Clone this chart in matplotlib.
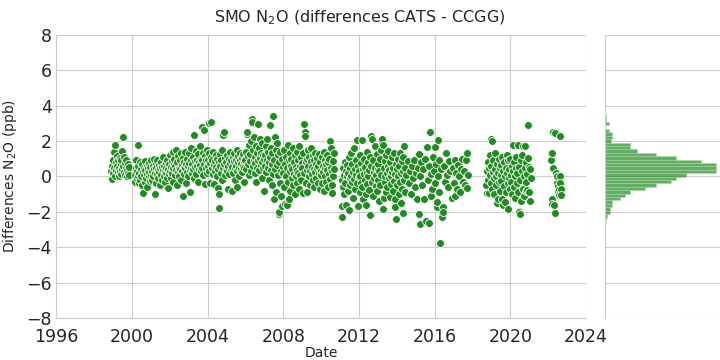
import numpy as np
import matplotlib
matplotlib.use("Agg")
import matplotlib.pyplot as plt
import seaborn as sns

# CATS - CCGG differences at SMO, (decimal year, ppb)
pts_1999 = [(1998.92,0.3),(1998.95,0.6),(1998.97,-0.15),(1999.0,0.9),(1999.02,0.2),(1999.05,1.4),(1999.07,0.5),
            (1999.1,1.8),(1999.12,0.0),(1999.15,0.8),(1999.17,0.35),(1999.2,1.15),(1999.22,0.6),(1999.25,0.25),
            (1999.28,0.9),(1999.3,0.05),(1999.33,0.5),(1999.35,1.05),(1999.38,0.3),(1999.4,0.7),(1999.43,0.15),
            (1999.45,0.95),(1999.48,0.4),(1999.5,1.45),(1999.52,0.6),(1999.55,2.2),(1999.57,0.25),(1999.6,1.1),
            (1999.62,0.75),(1999.65,0.1),(1999.68,0.5),(1999.7,0.9),(1999.72,0.0),(1999.75,0.35),(1999.78,0.7),
            (1999.8,0.2),(1999.83,0.55),(1999.86,0.1)]

pts_2000 = [(2000.15,0.1),(2000.18,-0.3),(2000.2,0.5),(2000.22,0.9),(2000.25,-0.1),(2000.28,0.3),(2000.3,1.8),
            (2000.32,0.0),(2000.35,0.6),(2000.38,-0.4),(2000.4,0.2),(2000.42,0.8),(2000.45,-0.2),(2000.48,0.4),
            (2000.5,0.05),(2000.52,0.7),(2000.55,-0.5),(2000.57,0.25),(2000.6,-0.95),(2000.62,0.5),(2000.65,0.1),
            (2000.68,-0.3),(2000.7,0.85),(2000.72,0.35),(2000.75,-0.1),(2000.78,0.6),(2000.8,0.15),(2000.82,-0.6),
            (2000.85,0.45),(2000.88,0.0),(2000.9,0.75),(2000.92,0.25),(2000.95,-0.25),(2000.98,0.55),
            (2001.0,0.1),(2001.03,0.9),(2001.05,0.3),(2001.08,-0.2),(2001.1,0.6),(2001.13,0.0),(2001.15,1.0),
            (2001.18,0.4),(2001.2,-1.0),(2001.23,0.2),(2001.25,0.7),(2001.28,-0.35),(2001.3,0.5),(2001.33,0.15),
            (2001.35,0.95),(2001.38,0.35),(2001.4,-0.1),(2001.43,0.65),(2001.45,0.25),(2001.48,-0.5),(2001.5,0.45),
            (2001.53,0.8),(2001.55,0.1),(2001.58,0.55),(2001.6,-0.2),(2001.63,0.35),(2001.65,1.1),(2001.68,0.0),
            (2001.7,0.6),(2001.73,0.3),(2001.75,-0.3),(2001.78,0.75),(2001.8,0.2),(2001.83,0.5),(2001.85,-0.1),
            (2001.88,0.9),(2001.9,-0.65),(2001.93,0.4),(2001.95,0.15),(2001.98,0.7),
            (2002.0,0.3),(2002.03,1.2),(2002.05,-0.1),(2002.08,0.55),(2002.1,0.85),(2002.13,0.2),(2002.15,1.4),
            (2002.18,0.45),(2002.2,-0.3),(2002.23,0.7),(2002.25,1.0),(2002.28,0.1),(2002.3,0.6),(2002.33,1.5),
            (2002.35,0.35),(2002.38,-0.5),(2002.4,0.8),(2002.43,0.25),(2002.45,1.15),(2002.48,0.5),(2002.5,0.0),
            (2002.53,0.9),(2002.55,0.4),(2002.58,1.3),(2002.6,-0.2),(2002.63,0.65),(2002.65,0.3),(2002.68,-1.1),
            (2002.7,1.05),(2002.73,0.55),(2002.75,0.15),(2002.78,0.8),(2002.8,1.4),(2002.83,0.45),(2002.85,-0.4),
            (2002.88,0.7),(2002.9,0.25),(2002.93,1.0),(2002.95,0.6),(2002.98,0.05),
            (2003.0,0.75),(2003.03,1.3),(2003.05,0.35),(2003.08,-0.9),(2003.1,0.9),(2003.13,0.5),(2003.15,1.6),
            (2003.18,0.2),(2003.2,0.7),(2003.23,1.1),(2003.25,0.4),(2003.28,-0.1),(2003.3,2.35),(2003.33,0.85),
            (2003.35,0.55),(2003.38,1.45),(2003.4,0.15),(2003.43,0.95),(2003.45,0.6),(2003.48,1.25),(2003.5,-0.3),
            (2003.53,0.8),(2003.55,0.4),(2003.58,1.7),(2003.6,0.65),(2003.63,1.0),(2003.65,0.3),(2003.68,2.8),
            (2003.7,0.9),(2003.73,0.5),(2003.75,1.35),(2003.78,0.1),(2003.8,2.6),(2003.83,0.7),(2003.85,1.15),
            (2003.88,-0.45),(2003.9,0.45),(2003.93,0.95),(2003.95,0.2),(2003.98,1.5),
            (2004.0,0.6),(2004.03,0.9),(2004.05,0.3),(2004.08,1.3),(2004.1,3.0),(2004.13,0.75),(2004.15,-0.4),
            (2004.18,1.1),(2004.2,3.05),(2004.23,0.5),(2004.25,0.95),(2004.28,0.15),(2004.3,1.4),(2004.33,0.65),
            (2004.35,-0.45),(2004.38,0.85),(2004.4,0.3),(2004.43,1.2),(2004.45,0.55),(2004.48,0.0),(2004.5,1.0),
            (2004.53,0.4),(2004.55,-0.65),(2004.58,0.8),(2004.6,-1.8),(2004.62,-1.0),(2004.65,1.25),(2004.68,0.6),
            (2004.7,0.2),(2004.72,0.9),(2004.75,-0.2),(2004.78,1.5),(2004.8,0.45),(2004.83,2.35),(2004.85,2.5),
            (2004.88,0.7),(2004.9,0.1),(2004.93,1.05),(2004.96,0.35)]

pts_2005 = [(2005.0,0.8),(2005.03,0.3),(2005.05,1.2),(2005.08,-0.7),(2005.1,0.6),(2005.13,1.0),(2005.15,0.15),
            (2005.18,0.75),(2005.2,1.4),(2005.23,0.4),(2005.25,0.9),(2005.28,-0.8),(2005.3,0.55),(2005.33,1.1),
            (2005.35,0.2),(2005.38,0.85),(2005.4,1.3),(2005.43,0.45),(2005.45,-0.2),(2005.48,0.95),(2005.5,0.6),
            (2005.53,1.5),(2005.55,0.3),(2005.58,-0.6),(2005.6,0.8),(2005.63,1.15),(2005.65,0.5),(2005.68,0.0),
            (2005.7,0.9),(2005.73,1.35),(2005.75,0.4),(2005.78,0.7),(2005.8,1.05),(2005.83,0.25),(2005.85,0.6),
            (2005.88,1.25),(2005.9,-0.3),(2005.93,0.85),(2005.95,0.5),(2005.98,1.0),
            (2006.0,0.9),(2006.03,1.4),(2006.05,0.4),(2006.08,2.4),(2006.1,2.5),(2006.13,0.7),(2006.15,1.15),
            (2006.18,0.1),(2006.2,1.8),(2006.23,0.85),(2006.25,1.25),(2006.28,0.3),(2006.3,2.0),(2006.33,3.25),
            (2006.35,3.1),(2006.38,0.6),(2006.4,1.5),(2006.43,0.95),(2006.45,2.2),(2006.48,0.2),(2006.5,1.1),
            (2006.53,0.75),(2006.55,1.7),(2006.58,-0.3),(2006.6,1.3),(2006.63,0.5),(2006.65,0.9),(2006.68,2.95),
            (2006.7,1.6),(2006.73,0.35),(2006.75,1.05),(2006.78,2.1),(2006.8,0.65),(2006.83,1.35),(2006.85,-0.1),
            (2006.88,0.8),(2006.9,1.9),(2006.93,1.2),(2006.95,0.45),(2006.98,1.0),
            (2007.0,-0.85),(2007.03,1.2),(2007.05,0.6),(2007.08,1.7),(2007.1,0.25),(2007.13,0.95),(2007.15,2.1),
            (2007.18,0.5),(2007.2,1.4),(2007.23,-0.2),(2007.25,0.8),(2007.28,2.9),(2007.3,1.1),(2007.33,0.35),
            (2007.35,1.6),(2007.38,0.7),(2007.4,-0.5),(2007.43,1.3),(2007.45,0.15),(2007.48,3.4),(2007.5,-1.3),
            (2007.53,0.9),(2007.55,2.2),(2007.58,0.4),(2007.6,1.5),(2007.63,-0.9),(2007.65,0.65),(2007.68,1.9),
            (2007.7,0.1),(2007.73,1.2),(2007.75,-2.1),(2007.78,-2.0),(2007.8,0.8),(2007.83,-0.4),(2007.85,1.4),
            (2007.88,0.3),(2007.9,-1.1),(2007.93,-1.65),(2007.95,1.0),(2007.98,0.55),
            (2008.0,0.2),(2008.03,1.5),(2008.05,-0.6),(2008.08,0.7),(2008.1,-1.55),(2008.13,1.1),(2008.15,0.0),
            (2008.18,-1.6),(2008.2,0.45),(2008.23,1.8),(2008.25,-0.3),(2008.28,0.9),(2008.3,-1.25),(2008.33,0.3),
            (2008.35,1.3),(2008.38,-0.8),(2008.4,0.6),(2008.43,1.0),(2008.45,-0.1),(2008.48,0.4),(2008.5,1.6),
            (2008.53,-0.5),(2008.55,0.8),(2008.58,0.15),(2008.6,1.2),(2008.63,-1.0),(2008.65,0.55),(2008.68,0.0),
            (2008.7,1.4),(2008.73,0.35),(2008.75,-0.35),(2008.78,0.95),(2008.8,0.2),(2008.83,1.7),(2008.85,-0.7),
            (2008.88,0.6),(2008.9,0.1),(2008.93,1.1),(2008.95,-0.2),(2008.98,0.75),
            (2009.0,0.5),(2009.03,-0.95),(2009.05,1.3),(2009.08,0.2),(2009.1,2.95),(2009.13,2.5),(2009.15,2.3),
            (2009.18,0.8),(2009.2,-0.4),(2009.23,1.0),(2009.25,0.35),(2009.28,-0.9),(2009.3,1.5),(2009.33,0.6),
            (2009.35,0.0),(2009.38,1.1),(2009.4,0.3),(2009.43,-0.5),(2009.45,0.85),(2009.48,1.6),(2009.5,0.15),
            (2009.53,0.55),(2009.55,-0.2),(2009.58,1.2),(2009.6,0.4),(2009.63,0.9),(2009.65,-0.6),(2009.68,0.25),
            (2009.7,1.35),(2009.73,0.7),(2009.75,-0.1),(2009.78,0.45),(2009.8,1.05),(2009.83,-0.35),(2009.85,0.6),
            (2009.88,0.2),(2009.9,1.25),(2009.93,-0.7),(2009.95,0.8),(2009.98,0.3),
            (2010.0,0.1),(2010.03,1.1),(2010.05,-0.4),(2010.08,0.6),(2010.1,0.25),(2010.13,1.4),(2010.15,-0.8),
            (2010.18,0.45),(2010.2,0.9),(2010.23,0.0),(2010.25,0.7),(2010.28,-0.3),(2010.3,1.2),(2010.33,0.35),
            (2010.35,-0.6),(2010.38,0.8),(2010.4,0.15),(2010.43,1.0),(2010.45,-0.15),(2010.48,2.0),(2010.5,1.6),
            (2010.53,0.5),(2010.55,-0.5),(2010.58,0.3),(2010.6,-0.95),(2010.63,0.85),(2010.65,0.05),(2010.68,1.3),
            (2010.7,0.4)]

pts_2011 = [(2011.08,-2.3),(2011.1,-1.7),(2011.12,-0.2),(2011.15,0.5),(2011.18,-0.6),(2011.2,0.1),(2011.23,-1.0),
            (2011.25,0.8),(2011.28,-0.35),(2011.3,0.3),(2011.33,-1.6),(2011.35,0.0),(2011.38,0.65),(2011.4,-0.8),
            (2011.43,0.2),(2011.45,1.1),(2011.48,-1.9),(2011.5,-0.1),(2011.53,0.45),(2011.55,-0.5),(2011.58,1.3),
            (2011.6,0.05),(2011.63,-0.3),(2011.65,0.7),(2011.68,-1.2),(2011.7,0.25),(2011.73,1.6),(2011.75,-0.15),
            (2011.78,0.4),(2011.8,-0.7),(2011.83,0.9),(2011.85,0.1),(2011.88,-0.4),(2011.9,2.05),(2011.93,-1.7),
            (2011.95,0.6),(2011.98,-0.05),
            (2012.0,0.3),(2012.03,-0.9),(2012.05,1.2),(2012.08,0.0),(2012.1,-0.35),(2012.13,0.75),(2012.15,2.05),
            (2012.18,-0.6),(2012.2,0.4),(2012.23,-1.3),(2012.25,0.15),(2012.28,1.0),(2012.3,-0.2),(2012.33,0.55),
            (2012.35,-1.0),(2012.38,-1.6),(2012.4,0.2),(2012.43,1.4),(2012.45,-0.45),(2012.48,0.8),(2012.5,0.0),
            (2012.53,-0.75),(2012.55,0.35),(2012.58,1.1),(2012.6,-2.2),(2012.63,0.6),(2012.65,2.3),(2012.68,2.1),
            (2012.7,-0.3),(2012.73,0.9),(2012.75,-1.1),(2012.78,0.25),(2012.8,-0.1),(2012.83,1.7),(2012.85,0.5),
            (2012.88,-0.55),(2012.9,0.1),(2012.93,1.25),(2012.95,-0.85),(2012.98,0.4),
            (2013.0,-0.2),(2013.03,0.7),(2013.05,-1.4),(2013.08,0.3),(2013.1,1.0),(2013.13,-0.5),(2013.15,0.1),
            (2013.18,1.5),(2013.2,1.9),(2013.23,2.1),(2013.25,1.8),(2013.28,-1.85),(2013.3,-1.2),(2013.33,0.45),
            (2013.35,-0.3),(2013.38,0.85),(2013.4,0.0),(2013.43,-0.9),(2013.45,1.2),(2013.48,0.2),(2013.5,-0.6),
            (2013.53,0.6),(2013.55,1.45),(2013.58,-0.1),(2013.6,0.35),(2013.63,-1.15),(2013.65,0.8),(2013.68,0.05),
            (2013.7,-0.45),(2013.73,1.1),(2013.75,0.25),(2013.78,-0.8),(2013.8,0.5),(2013.83,1.35),(2013.85,-0.25),
            (2013.88,0.15),(2013.9,-1.3),(2013.93,-1.75),(2013.95,0.7),(2013.98,-2.4),
            (2014.0,0.4),(2014.03,-0.5),(2014.05,1.0),(2014.08,0.0),(2014.1,-1.0),(2014.13,0.6),(2014.15,1.3),
            (2014.18,-0.3),(2014.2,0.2),(2014.23,-1.5),(2014.25,0.85),(2014.28,-0.7),(2014.3,-2.05),(2014.33,0.3),
            (2014.35,1.1),(2014.38,-0.2),(2014.4,1.7),(2014.43,0.5),(2014.45,-0.9),(2014.48,0.1)]

pts_2015 = [(2014.6,0.85),(2014.65,-0.4),(2014.7,0.3),(2014.75,-1.0),(2014.8,0.6),(2014.85,-0.1),(2014.9,0.9),
            (2014.95,-0.6),(2015.0,0.2),(2015.05,-1.3),(2015.1,0.5),(2015.15,1.27),(2015.18,-2.1),(2015.2,-2.7),
            (2015.25,0.0),(2015.3,0.8),(2015.35,-0.5),(2015.4,0.4),(2015.45,-1.3),(2015.5,1.0),(2015.55,-2.5),
            (2015.6,1.68),(2015.65,-0.2),(2015.7,-2.65),(2015.72,0.6),(2015.75,2.5),(2015.78,-1.1),(2015.8,0.15),
            (2015.85,-0.7),(2015.9,1.1),(2015.95,0.3),(2016.0,1.68),(2016.03,-0.4),(2016.05,0.7),(2016.1,-1.75),
            (2016.12,-1.45),(2016.15,0.0),(2016.2,2.05),(2016.23,0.9),(2016.25,-0.9),(2016.3,-3.77),(2016.33,0.4),
            (2016.38,-2.1),(2016.4,-2.3),(2016.42,-1.75),(2016.45,-2.0),(2016.5,0.6),(2016.55,-0.3),(2016.6,1.3),
            (2016.65,0.1),(2016.7,-0.6),(2016.75,0.85),(2016.8,0.3),(2016.9,-1.2),(2016.95,0.5),(2017.0,-0.4),
            (2017.05,0.9),(2017.1,-1.1),(2017.15,0.2),(2017.2,-0.7),(2017.25,0.65),(2017.3,0.0),(2017.35,-0.9),
            (2017.4,0.4),(2017.45,0.97),(2017.5,-0.3),(2017.55,0.3),(2017.6,-0.5),(2017.65,0.95),(2017.7,1.35),
            (2017.72,-0.67),(2017.75,0.1)]

pts_2019 = [(2018.72,-0.5),(2018.75,-0.95),(2018.78,0.3),(2018.8,0.8),(2018.83,-0.2),(2018.85,0.5),(2018.88,-0.95),
            (2018.9,0.1),(2018.93,1.2),(2018.95,-0.4),(2018.98,0.6),(2019.0,2.1),(2019.03,2.0),(2019.05,-0.7),
            (2019.08,0.25),(2019.1,0.9),(2019.13,-0.1),(2019.15,-1.0),(2019.18,0.4),(2019.2,1.3),(2019.23,-0.5),
            (2019.25,0.0),(2019.28,0.7),(2019.3,-1.5),(2019.33,-1.29),(2019.35,0.2),(2019.38,-0.3),(2019.4,1.0),
            (2019.43,0.45),(2019.45,-0.8),(2019.48,0.1),(2019.5,0.65),(2019.53,-0.25),(2019.55,1.1),(2019.58,-1.3),
            (2019.6,-1.6),(2019.63,0.3),(2019.65,-0.55),(2019.68,0.8),(2019.7,-1.45),(2019.73,0.0),(2019.75,0.5),
            (2019.78,-0.9),(2019.8,1.2),(2019.83,0.2),(2019.85,-0.4),(2019.88,-1.85),(2019.9,0.9),(2019.93,-0.1),
            (2019.95,0.4),(2019.98,-0.7),(2020.0,1.0),(2020.03,0.1),(2020.05,-0.3),(2020.08,0.6),(2020.1,-1.0),
            (2020.13,1.78),(2020.15,0.3),(2020.18,-0.6),(2020.2,0.8),(2020.23,0.0),(2020.25,-1.2),(2020.28,0.45),
            (2020.3,1.1),(2020.33,-0.4),(2020.35,0.2),(2020.38,-0.9),(2020.4,1.75),(2020.43,-1.95),(2020.45,-2.0),
            (2020.48,0.55),(2020.5,-0.2),(2020.53,-2.14),(2020.55,0.9),(2020.58,-1.4),(2020.6,1.2),(2020.63,0.3),
            (2020.65,-0.7),(2020.68,1.7),(2020.7,0.0),(2020.73,-1.1),(2020.75,1.72),(2020.78,0.5),(2020.8,-0.3),
            (2020.83,0.8),(2020.85,-0.8),(2020.88,0.15),(2020.9,-0.76),(2020.93,1.03),(2020.95,2.9),(2020.97,0.55),
            (2021.0,-0.86),(2021.03,-1.37),(2021.05,0.4),(2021.08,-0.1)]

pts_2022 = [(2022.13,1.3),(2022.15,0.9),(2022.18,1.3),(2022.2,-1.3),(2022.22,-1.57),(2022.25,2.5),(2022.27,0.5),
            (2022.3,-1.6),(2022.35,2.45),(2022.38,-2.08),(2022.42,0.18),(2022.45,-0.4),(2022.48,0.0),(2022.5,-0.57),
            (2022.52,-0.8),(2022.55,-0.7),(2022.58,-1.05),(2022.6,2.3),(2022.62,0.0),(2022.64,-0.4),(2022.66,-0.7),
            (2022.68,-1.05)]

# marginal histogram, counts per bin from top (3.46 ppb) down to -2.52 ppb
hist_counts = [1, 1, 4, 0, 4, 7, 7, 6, 25, 25, 32, 51, 71, 96, 110, 110, 110,
               81, 71, 66, 51, 40, 25, 20, 15, 7, 7, 5, 5, 2, 1]
hist_top, hist_bottom = 3.46, -2.52

year_ticks = [1996, 2000, 2004, 2008, 2012, 2016, 2020, 2024]

all_pts = pts_1999 + pts_2000 + pts_2005 + pts_2011 + pts_2015 + pts_2019 + pts_2022
dates = np.array([p[0] for p in all_pts])
diffs = np.array([p[1] for p in all_pts])

sns.set_style("whitegrid")
plt.rcParams['font.family'] = ['DejaVu Sans']

fig = plt.figure(figsize=(7.2, 3.6), dpi=100)
ax = fig.add_axes([0.078, 0.117, 0.736, 0.786])
axh = fig.add_axes([0.840, 0.117, 0.165, 0.786], sharey=ax)

ax.scatter(dates, diffs, s=32, color='forestgreen', edgecolor='white', linewidth=0.6, zorder=3)
ax.set_xlim(1996, 2024)
ax.set_ylim(-8, 8)
ax.set_xticks(year_ticks)
ax.set_yticks(range(-8, 9, 2))
ax.tick_params(labelsize=12.5, colors='#262626', length=0)
ax.tick_params(axis='x', pad=7)
ax.tick_params(axis='y', pad=3)
ax.set_xlabel('Date', fontsize=10, color='#262626', labelpad=0)
ax.set_ylabel('Differences N$_2$O (ppb)', fontsize=10, color='#262626', labelpad=5)
for s in ['top', 'right']:
    ax.spines[s].set_visible(False)
for s in ['left', 'bottom']:
    ax.spines[s].set_color('#cccccc')

# horizontal histogram on the right
n = len(hist_counts)
edges = np.linspace(hist_top, hist_bottom, n + 1)
heights = edges[:-1] - edges[1:]
axh.barh(edges[1:], hist_counts, height=heights, align='edge',
         color='forestgreen', alpha=0.7, edgecolor='#a8d5a8', linewidth=0.6)
axh.set_xlim(0, 118)
axh.set_xticks([])
axh.tick_params(labelleft=False, length=0)
axh.grid(axis='x', visible=False)
for s in ['top', 'right', 'bottom']:
    axh.spines[s].set_visible(False)
axh.spines['left'].set_color('#cccccc')

fig.suptitle('SMO N$_2$O (differences CATS - CCGG)', fontsize=11.5, color='#262626', y=0.975)

fig.savefig('out.png', dpi=100)
